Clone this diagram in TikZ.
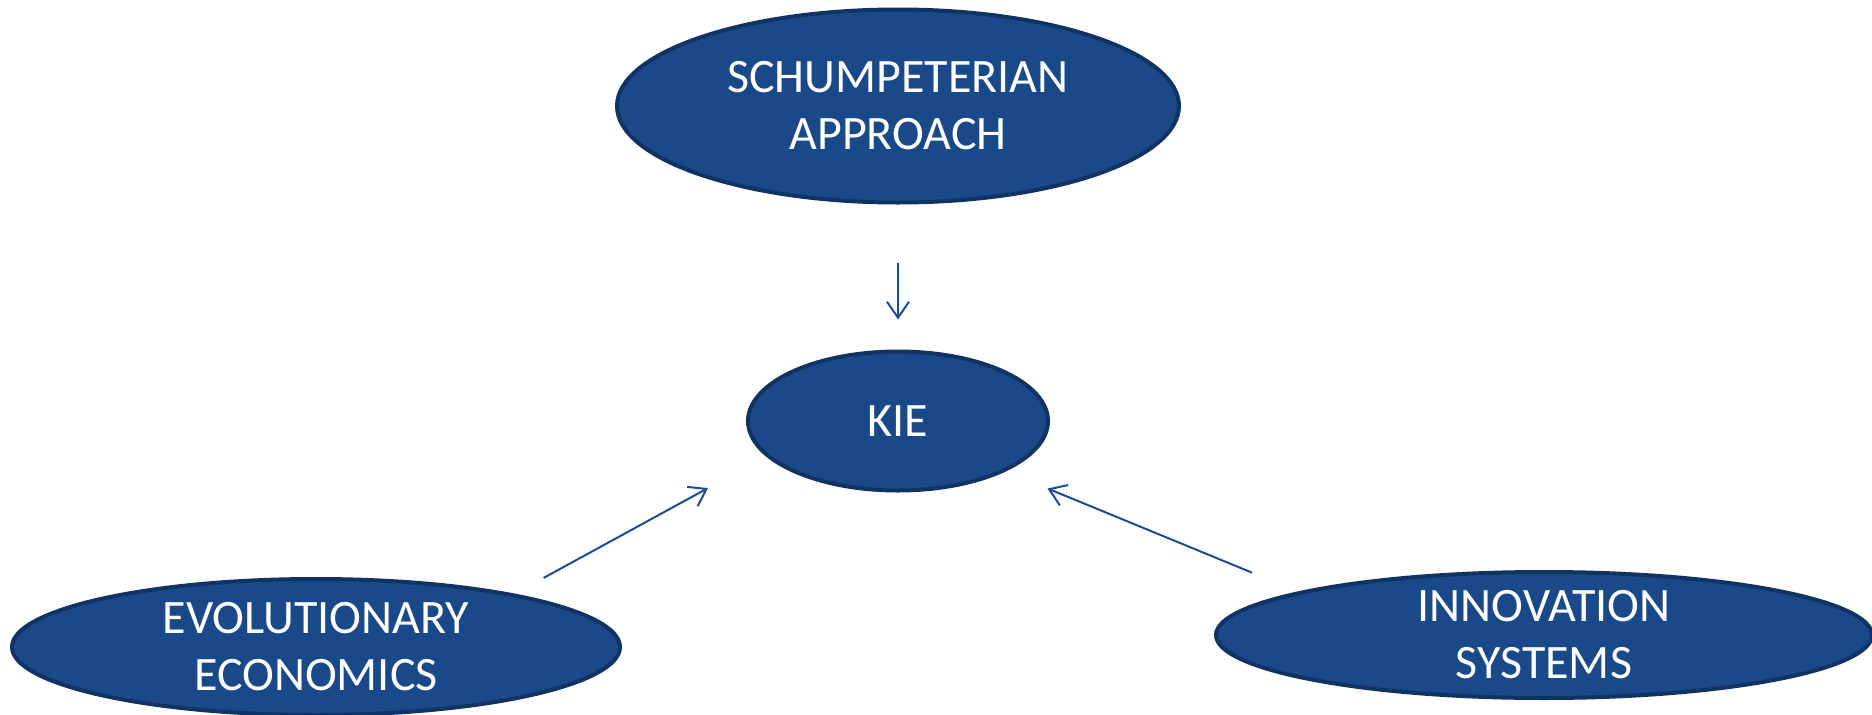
\documentclass[tikz,border=0pt]{standalone}
\usepackage{fontspec}
\setmainfont{Carlito}
\usetikzlibrary{shapes.geometric, arrows.meta}
\definecolor{fondbleu}{RGB}{26,73,137}
\definecolor{bordbleu}{RGB}{17,51,99}
\definecolor{flechebleu}{RGB}{30,76,146}
\tikzset{
  bulle/.style={ellipse, draw=bordbleu, line width=4pt, fill=fondbleu, text=white, inner sep=0pt, align=center, font=\fontsize{48}{57}\selectfont},
  fleche/.style={draw=flechebleu, line width=2pt, -{Straight Barb[length=16pt, width=22pt, line width=2pt]}}
}

\begin{document}
\begin{tikzpicture}[x=1pt, y=-1pt]
  \useasboundingbox (0,0) rectangle (1872,715);
  \node[bulle, minimum width=562pt, minimum height=193pt] (schump) at (898,106) {SCHUMPETERIAN\\APPROACH};
  \node[bulle, minimum width=300pt, minimum height=139pt] (kie) at (898,421) {KIE};
  \node[bulle, minimum width=608pt, minimum height=136pt] (evol) at (316,647) {EVOLUTIONARY\\ECONOMICS};
  \node[bulle, minimum width=656pt, minimum height=126pt] (innov) at (1544,635) {INNOVATION\\SYSTEMS};
  \draw[fleche, shorten <=58pt, shorten >=30pt] (schump.south) -- (kie.north);
  \draw[fleche, shorten <=33pt, shorten >=66pt] (evol.15.7) -- (kie.195.3);
  \draw[fleche, shorten <=50pt, shorten >=45pt] (innov.170.4) -- (kie.335.2);
\end{tikzpicture}
\end{document}
